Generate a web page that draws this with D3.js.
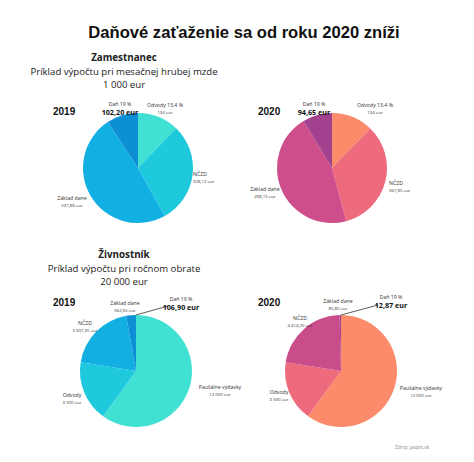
<!DOCTYPE html>
<html><head><meta charset="utf-8">
<script src="https://cdn.jsdelivr.net/npm/d3@7"></script>
<style>body{margin:0;background:#fff}svg{display:block}</style>
</head><body><svg id="c" width="474" height="462"></svg>
<script>
const topCats = ["Odvody", "NČZD", "Základ dane", "Daň 19 %"];
const top2019 = [134, 328.12, 537.88, 102.20];
const top2020 = [134, 367.85, 498.15, 94.65];
const topLabels2019 = ["134 eur", "328,12 eur", "537,88 eur", "102,20 eur"];
const topLabels2020 = ["134 eur", "367,85 eur", "498,15 eur", "94,65 eur"];
const topNames = ["Odvody 13,4 %", "NČZD", "Základ dane", "Daň 19 %"];

const botCats = ["Paušálne výdavky", "Odvody", "NČZD", "Základ dane"];
const bot2019 = [12000, 3500, 3937.35, 562.65];
const bot2020 = [12000, 3500, 4414.20, 85.80];
const botLabels2019 = ["12 000 eur", "3 500 eur", "3 937,35 eur", "562,65 eur"];
const botLabels2020 = ["12 000 eur", "3 500 eur", "4 414,20 eur", "85,80 eur"];
const botTax2019 = "106,90 eur";
const botTax2020 = "12,87 eur";

const blues = ["#40e0d3", "#1ec9de", "#12afe2", "#0d8fd6"];
const pinks = ["#fb8b6b", "#ee6b7d", "#cd4e8b", "#a2428f"];
const pinksB = ["#fb8b6b", "#ee6b7d", "#c94c8b", "#a2428f"];

const svg = d3.select("#c");
const F = "'Open Sans', sans-serif";

svg.append("text").attr("x", 244).attr("y", 38).attr("text-anchor", "middle")
  .attr("font-family", "'Liberation Sans', Arial, sans-serif").attr("font-weight", "bold")
  .attr("font-size", 16.6).attr("fill", "#111").text("Daňové zaťaženie sa od roku 2020 zníži");

function header(y, bold, l2, l3) {
  const g = svg.append("g").attr("font-family", F).attr("text-anchor", "middle").attr("fill", "#222");
  g.append("text").attr("x", 124).attr("y", y).attr("font-weight", "bold").attr("font-size", 9.8).text(bold);
  g.append("text").attr("x", 124).attr("y", y + 13.5).attr("font-size", 9.6).text(l2);
  g.append("text").attr("x", 124).attr("y", y + 27).attr("font-size", 9.6).text(l3);
}
header(61, "Zamestnanec", "Príklad výpočtu pri mesačnej hrubej mzde", "1 000 eur");
header(258, "Živnostník", "Príklad výpočtu pri ročnom obrate", "20 000 eur");

function year(x, y, t) {
  svg.append("text").attr("x", x).attr("y", y).attr("font-family", "'Liberation Sans', Arial, sans-serif")
    .attr("font-weight", "bold").attr("font-size", 10).attr("fill", "#111").text(t);
}
year(53, 115, "2019"); year(258, 115, "2020");
year(53, 306, "2019"); year(258, 306, "2020");

const pie = d3.pie().sort(null).value(d => d);

function drawPie(cx, cy, r, vals, colors) {
  const arc = d3.arc().innerRadius(0).outerRadius(r);
  const g = svg.append("g").attr("transform", `translate(${cx},${cy})`);
  g.selectAll("path").data(pie(vals)).join("path").attr("d", arc).attr("fill", (d, i) => colors[i]);
  return g;
}

function label(x, y, name, val, boldVal, anchor) {
  const g = svg.append("g").attr("font-family", F).attr("text-anchor", anchor || "middle").attr("fill", "#333");
  g.append("text").attr("x", x).attr("y", y).attr("font-size", 5.2).text(name);
  if (boldVal) {
    g.append("text").attr("x", x).attr("y", y + 9).attr("font-size", 7.2).attr("font-weight", "bold").attr("fill", "#111").text(val);
  } else {
    g.append("text").attr("x", x).attr("y", y + 6.5).attr("font-size", 4.3).text(val);
  }
}

// Top pies
drawPie(138, 168, 55, top2019, blues);
label(120, 106, topNames[3], topLabels2019[3], true);
label(165, 107, topNames[0], topLabels2019[0], false);
label(193, 176, topNames[1], topLabels2019[1], false, "start");
label(72, 200, topNames[2], topLabels2019[2], false);

drawPie(332, 168, 55, top2020, pinks);
label(314, 106, topNames[3], topLabels2020[3], true);
label(375, 107, topNames[0], topLabels2020[0], false);
label(389, 185, topNames[1], topLabels2020[1], false, "start");
label(265, 191, topNames[2], topLabels2020[2], false);

// Bottom pies
function taxLine(cx, cy, r, x2, y2) {
  const a = pie([1])[0].startAngle;
  svg.append("line").attr("x1", cx + r * Math.sin(a)).attr("y1", cy - r * Math.cos(a))
    .attr("x2", x2).attr("y2", y2).attr("stroke", "#333").attr("stroke-width", 0.8);
}

drawPie(136, 371, 56, bot2019, blues);
taxLine(136, 371, 56, 168, 306);
label(181, 301, "Daň 19 %", botTax2019, true);
label(125, 305, botCats[3], botLabels2019[3], false);
label(85, 325, botCats[2], botLabels2019[2], false);
label(72, 397, botCats[1], botLabels2019[1], false);
label(220, 389, botCats[0], botLabels2019[0], false);

drawPie(341, 371, 56, bot2020, pinksB);
taxLine(341, 371, 56, 378, 305);
label(391, 299, "Daň 19 %", botTax2020, true);
label(338, 303, botCats[3], botLabels2020[3], false);
label(300, 320, botCats[2], botLabels2020[2], false);
label(279, 394, botCats[1], botLabels2020[1], false);
label(421, 390, botCats[0], botLabels2020[0], false);

svg.append("text").attr("x", 395).attr("y", 449).attr("font-family", F).attr("font-size", 5)
  .attr("fill", "#888").text("Zdroj: jaspis.sk");
</script></body></html>
